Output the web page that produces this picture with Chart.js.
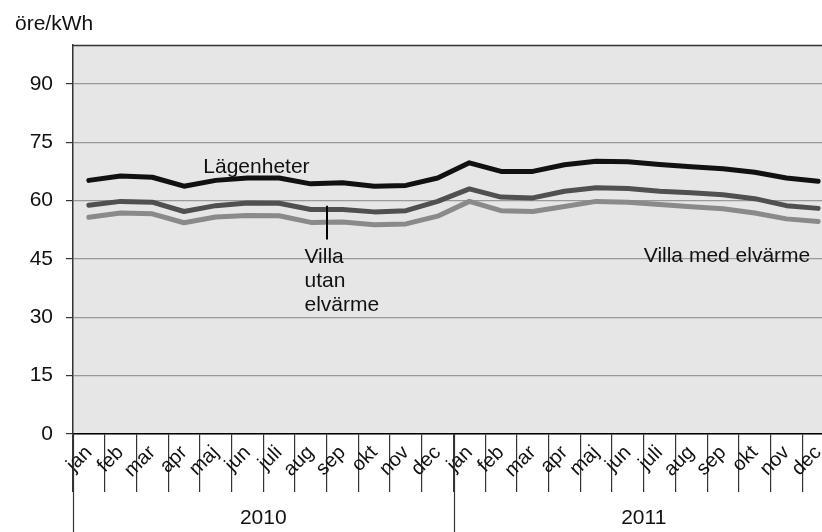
<!DOCTYPE html>
<html>
<head>
<meta charset="utf-8">
<script src="https://cdn.jsdelivr.net/npm/chart.js@4"></script>
<style>
html,body{margin:0;padding:0;background:#fff;overflow:hidden;width:822px;height:532px;}
canvas{display:block;}
</style>
</head>
<body>
<canvas id="c" width="840" height="532" style="width:840px;height:532px"></canvas>
<script>
const months = ['jan','feb','mar','apr','maj','jun','juli','aug','sep','okt','nov','dec'];
const years = ['2010','2011'];
const yTicks = [0,15,30,45,60,75,90];
const unitLabel = 'öre/kWh';

const lagenheter = [65.2,66.3,66.0,63.7,65.2,65.8,65.8,64.3,64.6,63.7,63.9,65.8, 69.7,67.5,67.5,69.2,70.1,70.0,69.3,68.7,68.2,67.3,65.8,65.0];
const villaUtan  = [58.8,59.8,59.6,57.2,58.7,59.4,59.3,57.7,57.7,57.1,57.4,59.8, 63.0,60.9,60.7,62.4,63.3,63.1,62.4,62.0,61.5,60.5,58.7,58.0];
const villaMed   = [55.7,56.8,56.6,54.3,55.8,56.2,56.1,54.4,54.5,53.8,54.0,56.0, 59.8,57.4,57.2,58.5,59.8,59.6,59.0,58.4,57.9,56.8,55.3,54.6];

const labels = years.flatMap(() => months);

// annotation anchors in data space (category index, value)
const annotations = [
  {lines:['Lägenheter'], x:3.61, y:67.1},
  {lines:['Villa','utan','elvärme'], x:6.8, y:44.0},
  {lines:['Villa med elvärme'], x:17.5, y:44.1}
];
const pointer = {x:7.51, y1:58.7, y2:50.0};

const FONT = '"Liberation Sans", Arial, sans-serif';

const deco = {
  id:'deco',
  beforeDraw(chart){
    const {ctx, chartArea:a} = chart;
    ctx.save();
    ctx.fillStyle = '#e6e6e6';
    ctx.fillRect(a.left, a.top, a.right - a.left, a.bottom - a.top);
    ctx.restore();
  },
  afterDraw(chart){
    const {ctx, chartArea:a, scales} = chart;
    const xs = scales.x, ys = scales.y;
    ctx.save();
    // top border
    ctx.strokeStyle = '#333';
    ctx.lineWidth = 1.5;
    ctx.beginPath(); ctx.moveTo(a.left, a.top + 0.5); ctx.lineTo(a.right, a.top + 0.5); ctx.stroke();
    // year separators & labels
    ctx.strokeStyle = '#333';
    ctx.lineWidth = 1.2;
    const H = chart.height;
    for (let g = 0; g <= years.length; g++) {
      const px = Math.round(xs.getPixelForValue(g * 12 - 0.5)) + 0.5;
      ctx.beginPath(); ctx.moveTo(px, a.bottom); ctx.lineTo(px, H); ctx.stroke();
    }
    ctx.fillStyle = '#111';
    ctx.font = '21px ' + FONT;
    ctx.textAlign = 'center';
    ctx.textBaseline = 'middle';
    years.forEach((y, g) => {
      const cx = xs.getPixelForValue(g * 12 + 5.5);
      ctx.fillText(y, cx, 518);
    });
    // unit label
    ctx.textAlign = 'left';
    ctx.textBaseline = 'alphabetic';
    ctx.fillText(unitLabel, 15, 30);
    // annotations
    annotations.forEach(an => {
      const px = xs.getPixelForValue(an.x);
      const py = ys.getPixelForValue(an.y);
      an.lines.forEach((t, i) => ctx.fillText(t, px, py + i * 24));
    });
    // pointer
    ctx.strokeStyle = '#000';
    ctx.lineWidth = 2;
    const ppx = Math.round(xs.getPixelForValue(pointer.x));
    ctx.beginPath();
    ctx.moveTo(ppx, ys.getPixelForValue(pointer.y1));
    ctx.lineTo(ppx, ys.getPixelForValue(pointer.y2));
    ctx.stroke();
    ctx.restore();
  }
};

const common = {fill:false, tension:0, pointRadius:0, borderWidth:5, borderJoinStyle:'round', borderCapStyle:'round'};

new Chart(document.getElementById('c'), {
  type:'line',
  data:{
    labels,
    datasets:[
      {label:'Villa med elvärme', data:villaMed, borderColor:'#8a8a8a', ...common},
      {label:'Villa utan elvärme', data:villaUtan, borderColor:'#505050', ...common},
      {label:'Lägenheter', data:lagenheter, borderColor:'#111111', ...common}
    ]
  },
  options:{
    responsive:false,
    animation:false,
    layout:{padding:{top:45, right:6, left:0, bottom:0}},
    plugins:{legend:{display:false}, tooltip:{enabled:false}, title:{display:false}},
    scales:{
      x:{
        offset:true,
        grid:{offset:true, drawOnChartArea:false, tickLength:58, color:'#333', lineWidth:1.2},
        border:{display:true, color:'#000', width:1.5},
        ticks:{autoSkip:false, minRotation:45, maxRotation:45, padding:-51, color:'#111', font:{family:FONT, size:20}},
        afterFit(s){ s.height = 98; }
      },
      y:{
        min:0, max:100,
        afterBuildTicks(s){ s.ticks = yTicks.map(v => ({value:v})); },
        grid:{color:'#999', lineWidth:1.2, tickLength:7, tickColor:'#333'},
        border:{display:true, color:'#333', width:1.5},
        ticks:{padding:13, color:'#111', font:{family:FONT, size:21}},
        afterFit(s){ s.width = 73; }
      }
    }
  },
  plugins:[deco]
});
</script>
</body>
</html>
